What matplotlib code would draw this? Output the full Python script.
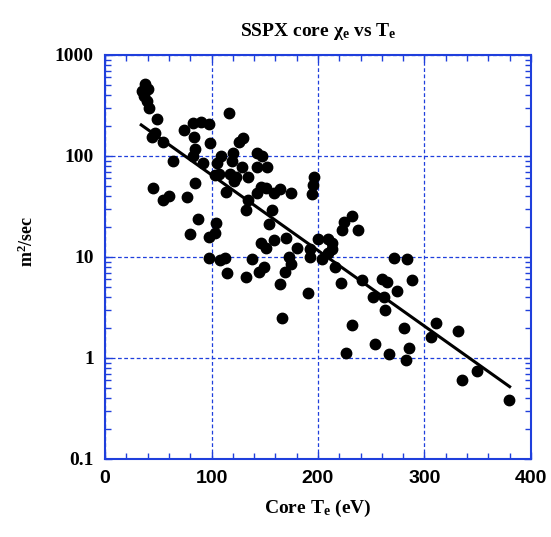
import matplotlib
matplotlib.use('Agg')
import matplotlib.pyplot as plt
from matplotlib.ticker import MultipleLocator, LogLocator, NullFormatter, FixedFormatter, FixedLocator

# Core electron temperature (eV) and chi_e (m^2/sec)
core_te = [37.6, 34.5, 40.7, 36.6, 39.2, 41.3, 49.1, 116.7, 82.3, 89.9,
           97.9, 74.5, 46.9, 44.4, 83.6, 54.2, 98.6, 129.3, 126.1, 84.5,
           82.3, 119.9, 143.0, 147.1, 108.6, 64.1, 92.3, 105.4, 119.0, 128.4,
           142.4, 152.4, 103.3, 107.3, 117.4, 123.0, 121.1, 134.6, 84.5, 45.4,
           54.2, 60.1, 76.7, 113.3, 142.4, 146.5, 150.9, 158.7, 164.3, 174.4,
           196.5, 195.6, 194.6, 134.6, 132.4, 156.5, 154.3, 87.6, 104.2, 103.3,
           79.8, 97.9, 158.7, 170.0, 146.5, 150.9, 180.0, 173.1, 137.7, 97.7,
           108.0, 112.7, 114.3, 132.1, 144.9, 149.3, 174.4, 169.0, 164.3, 166.5,
           190.9, 231.6, 224.4, 222.3, 237.8, 200.3, 209.7, 212.9, 212.9, 192.5,
           271.6, 283.3, 192.5, 203.5, 209.7, 216.0, 221.3, 241.0, 259.8, 265.1,
           288.0, 274.5, 251.4, 262.0, 262.9, 232.2, 281.0, 310.8, 305.8, 331.2,
           253.5, 226.0, 266.7, 285.7, 282.3, 349.0, 335.5, 379.6]
chi_e = [516, 444, 457, 393, 353, 297, 231, 265, 214, 219,
         207, 181, 168, 155, 153, 139, 134, 150, 139, 116,
         100, 108, 108, 100, 100, 90, 85, 86, 90, 78,
         77, 77, 65, 66, 67, 62, 56, 62, 54, 48,
         37, 40, 39, 44, 43, 49, 48, 43, 47, 43,
         62, 52, 42, 37, 29, 29, 21, 23.6, 21.9, 17.4,
         16.9, 15.7, 14.7, 15.3, 13.9, 12.2, 12.2, 9.9, 9.5, 9.7,
         9.3, 9.7, 7.0, 6.3, 7.1, 8.0, 8.5, 7.1, 5.4, 2.5,
         4.4, 25.6, 22.4, 18.5, 18.5, 15.1, 15.1, 13.7, 11.9, 11.9,
         9.7, 9.5, 10.1, 9.5, 10.9, 8.0, 5.5, 5.9, 6.0, 5.6,
         5.9, 4.6, 4.0, 4.0, 3.0, 2.1, 1.97, 2.2, 1.63, 1.86,
         1.38, 1.11, 1.09, 1.25, 0.95, 0.75, 0.60, 0.38]

# exponential fit, end points
fit_te = [34, 380]
fit_chi = [203, 0.52]

x_ticks = [0, 100, 200, 300, 400]
y_ticks = [0.1, 1, 10, 100, 1000]
y_labels = ['0.1', '1', '10', '100', '1000']

blue = '#1f3fdc'
serif = 'Liberation Serif'
sans = 'Liberation Sans'

plt.rcParams['mathtext.fontset'] = 'custom'
plt.rcParams['mathtext.rm'] = 'Liberation Serif:bold'
plt.rcParams['mathtext.it'] = 'Liberation Serif:bold'
plt.rcParams['mathtext.bf'] = 'Liberation Serif:bold'

fig = plt.figure(figsize=(5.51, 5.37), dpi=100)
ax = fig.add_axes([0.1906, 0.1453, 0.773, 0.7523])

ax.plot(core_te, chi_e, 'o', color='black', markersize=7.5, zorder=3)
ax.plot(fit_te, fit_chi, '-', color='black', linewidth=2.2, zorder=4)

ax.set_xlim(0, 400)
ax.set_yscale('log')
ax.set_ylim(0.1, 1000)

ax.xaxis.set_major_locator(FixedLocator(x_ticks))
ax.xaxis.set_minor_locator(MultipleLocator(20))
ax.yaxis.set_major_locator(FixedLocator(y_ticks))
ax.yaxis.set_major_formatter(FixedFormatter(y_labels))
ax.yaxis.set_minor_locator(LogLocator(base=10, subs=range(2, 10), numticks=20))
ax.yaxis.set_minor_formatter(NullFormatter())

ax.grid(True, which='major', color=blue, linestyle=(0, (3, 2)), linewidth=0.9)
for s in ax.spines.values():
    s.set_color(blue)
    s.set_linewidth(1.5)

ax.tick_params(which='both', direction='in', top=True, right=True, color=blue, width=1.0)
ax.tick_params(which='major', length=5)
ax.tick_params(which='minor', length=4)
ax.tick_params(axis='x', pad=8)
ax.tick_params(axis='y', pad=8)

for lab in ax.get_xticklabels():
    lab.set_fontfamily(sans)
    lab.set_fontweight('bold')
    lab.set_fontsize(14)
for lab in ax.get_yticklabels():
    lab.set_fontfamily(serif)
    lab.set_fontweight('bold')
    lab.set_fontsize(14)

ax.set_title(r'SSPX core $\chi_{\mathrm{e}}$ vs T$_{\mathrm{e}}$', fontfamily=serif,
             fontweight='bold', fontsize=14, pad=14)
ax.set_xlabel(r'Core T$_{\mathrm{e}}$ (eV)', fontfamily=serif, fontweight='bold',
              fontsize=14, labelpad=8)
ax.set_ylabel(r'm$^{2}$/sec', fontfamily=serif, fontweight='bold', fontsize=13)
ax.yaxis.set_label_coords(-0.16, 0.54)

fig.savefig('out.png', dpi=100)
